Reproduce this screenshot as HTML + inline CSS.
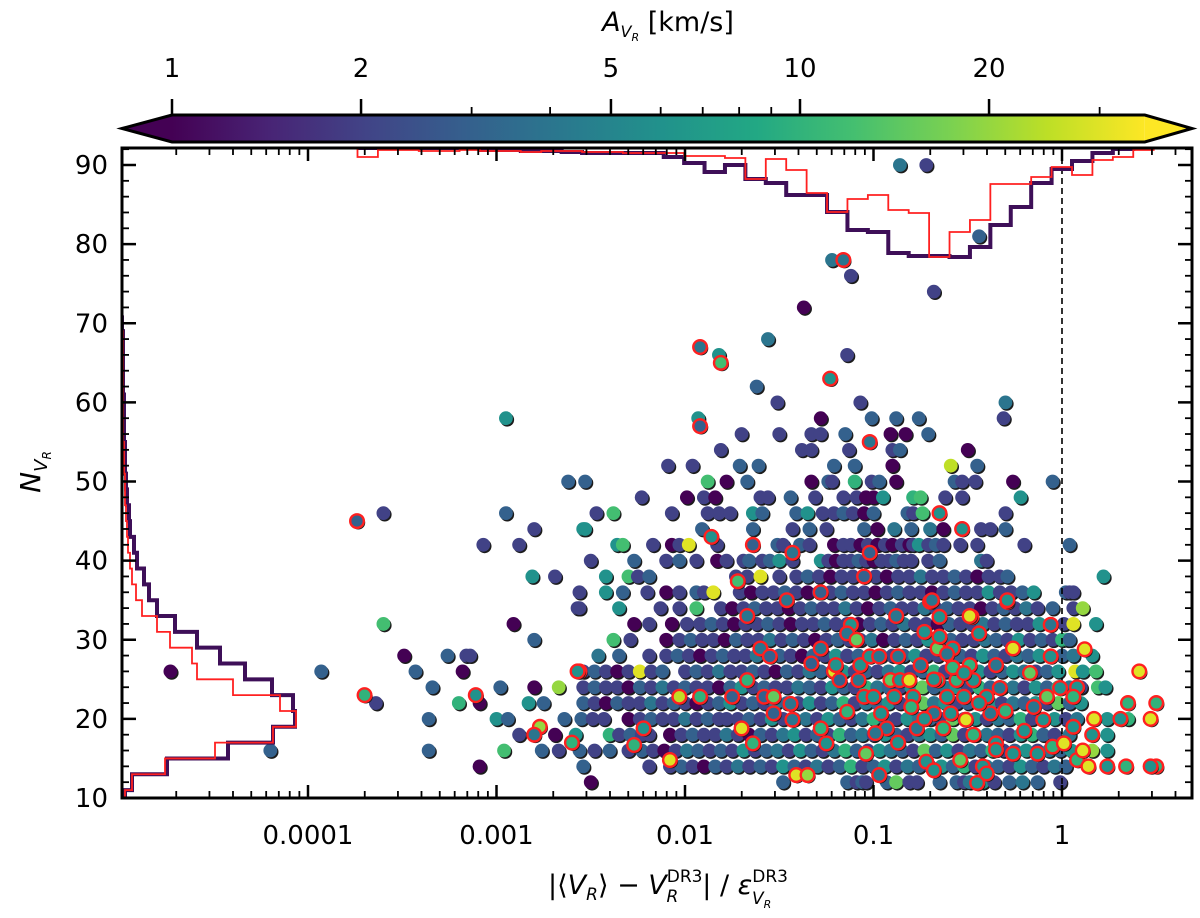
<!DOCTYPE html>
<html><head><meta charset="utf-8"><style>
html,body{margin:0;padding:0;background:#fff;}
svg{display:block;font-family:"DejaVu Sans","Liberation Sans",sans-serif;}
</style></head><body>
<svg id="chart" width="1200" height="918" viewBox="0 0 1200 918" xmlns="http://www.w3.org/2000/svg">
<defs>
<linearGradient id="vir" gradientUnits="userSpaceOnUse" x1="172" y1="0" x2="1145" y2="0">
<stop offset="0" stop-color="#440154"/><stop offset="0.1" stop-color="#482475"/><stop offset="0.2" stop-color="#414487"/><stop offset="0.3" stop-color="#355f8d"/><stop offset="0.4" stop-color="#2a788e"/><stop offset="0.5" stop-color="#21918c"/><stop offset="0.6" stop-color="#22a884"/><stop offset="0.7" stop-color="#44bf70"/><stop offset="0.8" stop-color="#7ad151"/><stop offset="0.9" stop-color="#bddf26"/><stop offset="1" stop-color="#fde725"/>
</linearGradient>
<clipPath id="plotclip"><rect x="122" y="148" width="1070" height="650"/></clipPath>
</defs>
<g id="colorbar"></g>
<g id="plot" clip-path="url(#plotclip)"></g>
<g id="axes"></g>
<text x="668" y="31" font-size="27" text-anchor="middle"><tspan font-style="italic">A</tspan><tspan font-style="italic" font-size="16" dy="6">V</tspan><tspan font-style="italic" font-size="11" dy="4">R</tspan><tspan dy="-10" font-size="27">   [km/s]</tspan></text>
<text transform="translate(40,472) rotate(-90)" font-size="28" text-anchor="middle"><tspan font-style="italic">N</tspan><tspan font-style="italic" font-size="18" dy="7">V</tspan><tspan font-style="italic" font-size="12" dy="4">R</tspan></text>
<text x="668" y="894" font-size="27" text-anchor="middle">|⟨<tspan font-style="italic">V</tspan><tspan font-style="italic" font-size="17" dy="6">R</tspan><tspan dy="-6">⟩ − </tspan><tspan font-style="italic">V</tspan><tspan font-size="17" dy="-12">DR3</tspan><tspan font-style="italic" font-size="17" dx="-36" dy="20">R</tspan><tspan dy="-8" dx="24">| / </tspan><tspan font-style="italic">ε</tspan><tspan font-size="17" dy="-12">DR3</tspan><tspan font-style="italic" font-size="17" dx="-36" dy="22">V</tspan><tspan font-style="italic" font-size="11" dy="4">R</tspan></text>
</svg>
<script>
// ---------- data ----------
const xTickVals = [-4, -3, -2, -1, 0];
const xTickLabels = ["0.0001", "0.001", "0.01", "0.1", "1"];
const yTickVals = [10, 20, 30, 40, 50, 60, 70, 80, 90];
const cbTickVals = [1, 2, 5, 10, 20];
const cbMinorVals = [3, 4, 6, 7, 8, 9, 30];

const rowN = [12,14,16,18,20,22,24,26,28,30,32,34,36,38,40,42,44,46,48,50,52,54,56,58,60,62];
const rowX = [
[-2.50,-1.48,-1.14,-1.09,-1.06,-1.04,-0.93,-0.88,-0.81,-0.77,-0.65,-0.56,-0.52,-0.49,-0.45,-0.42,-0.36,-0.28,-0.21,-0.13,-0.01],
[-3.09,-2.54,-2.19,-2.08,-2.02,-1.96,-1.90,-1.84,-1.78,-1.72,-1.66,-1.60,-1.54,-1.48,-1.42,-1.36,-1.30,-1.24,-1.18,-1.12,-1.06,-1.00,-0.94,-0.88,-0.82,-0.76,-0.70,-0.64,-0.58,-0.52,-0.46,-0.40,-0.34,-0.28,-0.22,-0.16,-0.10,-0.04,0.02],
[-4.20,-3.36,-2.96,-2.76,-2.67,-2.56,-2.48,-2.40,-2.30,-2.23,-2.17,-2.11,-2.05,-1.99,-1.93,-1.87,-1.81,-1.75,-1.69,-1.63,-1.57,-1.51,-1.45,-1.39,-1.33,-1.27,-1.21,-1.15,-1.09,-1.03,-0.97,-0.91,-0.85,-0.79,-0.73,-0.67,-0.61,-0.55,-0.49,-0.43,-0.37,-0.31,-0.25,-0.19,-0.13,-0.07,-0.01,0.05,0.16,0.24],
[-2.88,-2.69,-2.58,-2.40,-2.35,-2.29,-2.23,-2.19,-2.08,-2.02,-1.96,-1.90,-1.84,-1.78,-1.72,-1.66,-1.60,-1.54,-1.48,-1.42,-1.36,-1.30,-1.24,-1.18,-1.12,-1.06,-1.00,-0.94,-0.88,-0.82,-0.76,-0.70,-0.64,-0.58,-0.52,-0.46,-0.40,-0.34,-0.28,-0.22,-0.16,-0.10,-0.04,0.04,0.24],
[-3.36,-3.00,-2.94,-2.64,-2.55,-2.49,-2.43,-2.30,-2.24,-2.18,-2.12,-2.06,-2.00,-1.94,-1.88,-1.82,-1.78,-1.72,-1.66,-1.60,-1.54,-1.48,-1.42,-1.36,-1.30,-1.24,-1.18,-1.12,-1.06,-1.00,-0.94,-0.88,-0.82,-0.76,-0.70,-0.64,-0.58,-0.52,-0.46,-0.40,-0.34,-0.28,-0.22,-0.16,-0.10,-0.04,0.02,0.08,0.24,0.35],
[-3.64,-3.20,-3.09,-2.83,-2.75,-2.54,-2.48,-2.42,-2.36,-2.30,-2.24,-2.18,-2.12,-2.06,-2.00,-1.94,-1.88,-1.82,-1.76,-1.70,-1.64,-1.58,-1.52,-1.46,-1.40,-1.34,-1.28,-1.22,-1.16,-1.10,-1.04,-0.98,-0.92,-0.86,-0.80,-0.74,-0.68,-0.62,-0.56,-0.50,-0.44,-0.38,-0.32,-0.26,-0.20,-0.14,-0.08,-0.02,0.04,0.10],
[-3.34,-2.98,-2.80,-2.67,-2.54,-2.48,-2.42,-2.36,-2.30,-2.24,-2.18,-2.12,-2.06,-2.00,-1.94,-1.88,-1.82,-1.76,-1.70,-1.64,-1.58,-1.52,-1.46,-1.40,-1.34,-1.28,-1.22,-1.16,-1.10,-1.04,-0.98,-0.92,-0.86,-0.80,-0.74,-0.68,-0.62,-0.56,-0.50,-0.44,-0.38,-0.32,-0.26,-0.20,-0.14,-0.08,-0.02,0.04,0.10,0.19,0.23],
[-4.73,-3.93,-3.43,-3.18,-2.54,-2.48,-2.42,-2.36,-2.30,-2.24,-2.18,-2.12,-2.00,-1.94,-1.88,-1.82,-1.76,-1.70,-1.64,-1.58,-1.52,-1.46,-1.40,-1.34,-1.28,-1.22,-1.16,-1.10,-1.04,-0.98,-0.92,-0.86,-0.80,-0.74,-0.68,-0.62,-0.56,-0.50,-0.44,-0.38,-0.32,-0.26,-0.20,-0.14,-0.08,-0.02,0.07,0.11,0.18],
[-3.49,-3.26,-3.16,-3.14,-2.46,-2.35,-2.19,-2.10,-2.04,-1.98,-1.92,-1.86,-1.80,-1.74,-1.68,-1.62,-1.56,-1.50,-1.44,-1.38,-1.32,-1.26,-1.20,-1.14,-1.08,-1.02,-0.96,-0.90,-0.84,-0.78,-0.72,-0.66,-0.60,-0.54,-0.48,-0.42,-0.36,-0.30,-0.24,-0.18,-0.12,-0.06,0.00,0.06,0.16],
[-2.80,-2.38,-2.29,-2.10,-2.03,-1.97,-1.91,-1.85,-1.79,-1.73,-1.67,-1.61,-1.55,-1.49,-1.43,-1.37,-1.31,-1.25,-1.19,-1.13,-1.07,-1.01,-0.95,-0.89,-0.83,-0.77,-0.71,-0.65,-0.59,-0.53,-0.47,-0.41,-0.35,-0.29,-0.23,-0.17,-0.11,-0.05,0.00,0.03,0.04],
[-3.60,-2.91,-2.27,-2.19,-2.07,-1.99,-1.92,-1.86,-1.80,-1.74,-1.68,-1.62,-1.56,-1.50,-1.44,-1.38,-1.32,-1.26,-1.20,-1.14,-1.08,-1.02,-0.96,-0.90,-0.84,-0.78,-0.72,-0.66,-0.60,-0.54,-0.48,-0.42,-0.36,-0.30,-0.24,-0.18,-0.12,-0.06,0.01,0.06,0.18],
[-2.57,-2.35,-2.56,-2.13,-2.03,-1.94,-1.81,-1.75,-1.69,-1.63,-1.57,-1.51,-1.45,-1.39,-1.33,-1.27,-1.21,-1.15,-1.09,-1.03,-0.97,-0.91,-0.85,-0.79,-0.73,-0.67,-0.61,-0.55,-0.49,-0.43,-0.37,-0.31,-0.25,-0.19,-0.13,-0.05,0.06,0.11],
[-2.56,-2.42,-2.33,-2.20,-2.10,-2.03,-1.94,-1.90,-1.85,-1.71,-1.65,-1.59,-1.53,-1.47,-1.41,-1.35,-1.29,-1.23,-1.17,-1.11,-1.05,-0.99,-0.93,-0.87,-0.81,-0.75,-0.69,-0.63,-0.57,-0.51,-0.45,-0.39,-0.33,-0.27,-0.21,-0.15,0.02,0.04,0.06],
[-2.81,-2.69,-2.42,-2.30,-2.25,-2.19,-1.73,-1.67,-1.60,-1.50,-1.41,-1.35,-1.29,-1.23,-1.17,-1.11,-1.05,-0.99,-0.93,-0.87,-0.81,-0.75,-0.69,-0.63,-0.57,-0.51,-0.45,-0.39,-0.33,-0.29,0.22],
[-2.50,-2.27,-2.10,-2.03,-1.94,-1.83,-1.78,-1.69,-1.66,-1.59,-1.55,-1.50,-1.43,-1.28,-1.24,-1.20,-1.16,-1.12,-1.08,-1.04,-1.00,-0.96,-0.92,-0.88,-0.84,-0.80,-0.71,-0.65,-0.43,-0.40],
[-3.07,-2.88,-2.36,-2.33,-2.17,-2.07,-2.03,-1.98,-1.83,-1.51,-1.48,-1.39,-1.34,-1.21,-1.16,-1.12,-1.07,-1.03,-0.98,-0.94,-0.90,-0.85,-0.81,-0.79,-0.76,-0.71,-0.67,-0.63,-0.54,-0.45,-0.20,0.04],
[-2.80,-2.54,-2.53,-1.91,-1.64,-1.43,-1.34,-1.25,-1.05,-0.98,-0.89,-0.80,-0.70,-0.63,-0.43,-0.38,-0.30],
[-3.60,-2.95,-2.47,-2.38,-2.07,-1.88,-1.82,-1.76,-1.64,-1.59,-1.41,-1.35,-1.27,-1.21,-1.16,-1.11,-1.05,-1.00,-0.82,-0.79,-0.74,-0.30],
[-2.23,-1.99,-1.90,-1.84,-1.60,-1.56,-1.44,-1.31,-1.16,-1.09,-1.04,-1.00,-0.95,-0.79,-0.75,-0.62,-0.53,-0.22],
[-2.62,-2.53,-1.88,-1.78,-1.67,-1.33,-1.24,-1.22,-1.10,-1.01,-0.97,-0.88,-0.57,-0.53,-0.46,-0.26,-0.05],
[-2.09,-1.96,-1.71,-1.61,-1.21,-1.10,-0.90,-0.59,-0.45],
[-1.81,-1.38,-1.33,-1.13,-0.90,-0.86,-0.50],
[-1.70,-1.50,-1.33,-1.28,-1.15,-0.91,-0.83,-0.71],
[-2.95,-1.93,-1.28,-1.01,-0.88,-0.76,-0.31],
[-1.51,-1.07,-0.30],
[-1.62]
];
const rowA = [
[1,3,3,2,3,2,3,15,2,2,3,3,2,4,3,6,2,3,4,3,2],
[1,3,2,2,3,2,1,3,2,4,2,3,2,6,3,2,4,2,3,10,2,3,6,2,4,3,2,6,3,10,2,4,3,2,6,3,2,4,3],
[3,3,12,3,2,3,2,3,2,3,2,1,2,4,3,2,3,2,6,2,3,4,2,6,3,2,4,10,3,2,6,4,3,2,15,3,6,2,4,3,10,2,3,6,2,4,3,6,20,6],
[2,1,6,10,2,3,2,2,1,2,3,2,2,4,2,1,3,2,4,6,2,3,2,10,3,4,2,6,3,2,4,6,3,15,2,6,4,3,2,6,10,3,2,4,6],
[3,6,3,3,3,2,2,1,2,3,2,2,4,2,3,2,2,2,3,2,6,2,3,4,2,6,3,2,4,10,3,2,6,4,3,2,15,3,6,2,4,3,10,2,3,6,2,4,6,10],
[2,10,1,6,3,3,2,1,3,2,2,4,2,3,2,1,2,3,6,2,3,2,4,3,2,6,2,3,10,2,4,3,6,2,3,15,4,6,2,3,10,6,2,4,3,6,2,15,3,6],
[3,3,1,20,2,3,2,2,1,3,2,4,2,3,2,2,1,3,6,2,3,2,2,4,3,2,6,3,2,10,4,3,2,6,15,3,4,6,2,10,3,6,4,2,6,3,10,4,2,12,6],
[1,3,3,1,2,3,2,1,2,30,2,3,2,3,2,4,2,2,3,2,1,3,2,4,3,2,6,2,3,2,4,6,2,3,10,2,4,3,6,2,3,6,4,2,3,6,30,6,12],
[1,3,2,2,4,3,2,2,3,2,1,2,3,2,2,4,2,3,2,1,3,2,6,2,3,2,4,2,3,6,2,2,4,3,2,6,3,2,4,3,6,2,3,4,6],
[3,12,2,1,2,3,2,2,1,3,2,2,4,2,3,2,1,2,3,2,2,4,1,2,3,2,6,2,3,2,2,4,3,2,6,2,3,2,10,10,3],
[12,1,1,2,1,2,2,3,2,1,2,2,3,2,1,2,2,3,2,2,1,2,3,2,4,2,2,1,3,2,2,4,2,3,2,2,6,2,2,30,6],
[2,6,2,2,2,12,2,1,2,3,2,2,1,2,3,2,2,4,2,1,2,3,2,2,4,2,3,2,2,1,2,3,2,4,2,3,2,20],
[2,6,3,2,1,2,3,2,30,2,1,2,2,3,2,1,2,2,3,2,2,1,2,3,2,2,1,2,3,2,2,6,2,2,3,6,3,2,2],
[6,2,6,12,2,3,2,2,30,2,2,3,2,1,2,2,3,2,1,2,2,4,2,2,3,2,1,2,2,3,6],
[2,3,2,3,2,1,2,2,3,2,3,6,2,6,2,1,2,2,3,2,1,2,2,3,2,2,2,3,4,2],
[2,2,6,12,2,1,2,30,2,3,2,3,2,1,2,2,1,2,1,2,1,2,1,2,6,2,3,2,2,2,2,3],
[2,6,6,3,3,2,3,2,3,1,4,3,4,1,2,2,3],
[2,3,2,12,2,2,2,2,6,3,3,6,2,2,3,2,1,3,3,2,12,2],
[2,1,2,1,2,2,3,2,2,2,1,1,6,10,12,2,2,6],
[3,3,12,1,3,1,3,2,10,2,3,1,3,2,2,1,3],
[2,2,3,3,3,3,1,25,3],
[2,2,2,2,2,3,1],
[2,2,2,2,3,1,1,3],
[6,6,1,3,3,3,2],
[2,2,4],
[3]
];
// sparse points: [log10 x, N, A]
const sparsePts = [[-1.82,66,6],[-1.14,66,2],[-1.56,68,4],[-1.37,72,1],[-0.68,74,2],[-1.12,76,2],[-1.22,78,4],[-0.44,81,3],[-0.86,90,4],[-0.72,90,2]];
// red-circled points: [log10 x, N, A]
const redPts = [
[-2.56,26,3],[-2.22,18.8,6],[-2.27,16.7,10],[-2.08,14.8,30],[-2.03,22.8,25],[-1.92,22.8,10],[-1.75,22.8,3],[-1.70,18.8,30],[-1.67,24.9,10],[-1.64,16.9,10],
[-1.60,28.9,4],[-1.58,22.8,3],[-1.55,27.9,3],[-1.53,22.8,15],[-1.53,20.7,3],[-1.44,21.9,4],[-1.41,12.9,30],[-1.35,12.9,20],[-1.33,27,3],[-1.28,28.9,4],
[-1.43,19.9,4],[-1.28,18.8,10],[-1.25,16.9,6],[-1.21,26,30],[-1.20,26.8,6],[-1.18,24.9,3],[-1.14,20.9,10],[-1.12,31.9,6],[-1.14,30.8,4],[-1.09,30,15],
[-1.08,24.9,4],[-1.07,26.8,6],[-1.05,22.8,6],[-1.04,15.6,15],[-1.02,27.9,6],[-1.00,22.8,6],[-0.97,27.9,4],[-0.96,20.7,6],[-0.93,18.8,4],[-0.91,24.9,15],
[-0.89,22.8,6],[-0.87,27.9,4],[-0.86,24.9,6],[-0.81,24.9,30],[-0.79,22.8,6],[-0.77,18.8,4],[-0.75,26.8,4],[-0.73,31,6],[-0.70,34.8,4],[-0.68,20.7,4],
[-0.66,24.9,10],[-0.66,28.9,15],[-0.65,32.9,6],[-0.63,18.8,10],[-0.61,22.8,6],[-0.59,20.7,6],[-0.58,28.9,6],[-0.56,24.9,10],[-0.54,14.8,15],[-0.52,22.8,6],
[-0.51,19.9,30],[-0.49,26.8,10],[-0.48,32.9,30],[-0.47,24.9,6],[-0.44,30.8,6],[-0.42,14,6],[-0.40,22.8,6],[-0.38,20.7,4],[-0.35,26.8,4],[-0.35,16.9,6],
[-0.33,23.9,4],[-0.29,34.8,4],[-0.26,28.9,30],[-0.26,15.6,6],[-0.17,25.8,15],[-0.13,15.6,6],[-0.10,19.9,6],[-0.08,22.8,15],[-0.06,31.9,4],[-0.06,27.9,6],
[-0.05,16.5,10],[-0.01,23.9,6],[0.01,16.9,30],[0.06,19,6],[0.08,14.8,10],[-0.45,11.9,6],[-0.40,13.1,6],[-0.97,12.9,4],[-0.72,14.6,6],[-0.68,13.5,6],
[-0.35,16.1,6],[-0.65,30.4,6],[-0.61,28.2,4],[-0.58,26.5,10],[-0.68,25,6],[-0.52,25.8,6],[-0.73,20,6],[-0.47,18,10],[-0.87,17,6],[-0.99,18.2,4],
[-0.80,21.5,10],[-0.44,22,6],[-0.30,21,10],[-0.20,18.5,6],[-0.15,21.5,4],
[0.17,20,30],[0.31,20,6],[0.35,22,10],[0.16,18,6],[0.11,16,30],[0.14,14,30],[0.24,14,6],[0.34,14,10],[0.12,28.8,30],[0.41,26,30],[0.08,24,6],[0.06,22.8,10],
[0.47,20,30],[0.50,22,10],[0.50,14,10],[0.47,14,6],
[-3.74,45,3],[-3.70,23,10],[-3.11,23,6],[-2.77,19,20],[-2.80,18,4],[-2.60,17,10],[-2.57,26,6],[-1.92,67,4],[-1.81,65,12],[-1.23,63,6],[-1.16,78,4],
[-1.92,57,3],[-1.02,55,4],[-1.86,43,6],[-1.64,42,3],[-1.43,41,4],[-1.02,41,3],[-0.65,46,6],[-0.53,44,6],[-1.05,38,3],[-1.72,37.4,12],[-1.28,36,3],
[-1.46,35,4],[-0.69,35,4],[-0.29,35,6],[-1.67,33,4],[-0.88,33,4],[-0.49,33,30]
];
// left histogram (bins of N, width 2, starting at N=9)
const leftHistAll = [3,10,45,106,151,173,171,150,123,98,75,53,35,27,22,15,12,8,7,5,4,3,3,2,2,2,1,1,1,1,0];
const leftHistRed = [3,10,43,93,151,174,158,111,75,70,48,35,20,14,10,8,6,5,4,3,3,2,2,1,1,1,1,1,1,1,0];
// top histogram (log-x bins)
const topHistAll = [0,0,0,0,0,0,2,2,3,3,4,5,5,5,5,9,15,24,17,31,35,47,47,64,82,84,105,108,108,109,99,77,59,35,21,13,5,1,0];
const topHistRed = [9,2,2,3,3,2,3,3,4,3,3,4,4,5,5,5,8,8,10,31,11,22,45,64,51,47,62,65,109,84,72,36,36,29,19,27,12,9,2];

// ---------- scales ----------
const L=122,R=1192,T=148,B=798;
function xs(lx){return 1062+lx*188.5;}
function ys(n){return 798-(n-10)*7.9125;}
const CB0=172, CBDEC=628, CBMAX=35.4;
function cbx(a){return CB0+Math.log10(a)*CBDEC;}
const VIR=["#440154","#482475","#414487","#355f8d","#2a788e","#21918c","#22a884","#44bf70","#7ad151","#bddf26","#fde725"];
function hex(c){return [parseInt(c.substr(1,2),16),parseInt(c.substr(3,2),16),parseInt(c.substr(5,2),16)];}
function color(a){
  let t=Math.log(a)/Math.log(CBMAX); t=Math.max(0,Math.min(1,t));
  const p=t*10, i=Math.min(9,Math.floor(p)), f=p-i;
  const c0=hex(VIR[i]), c1=hex(VIR[i+1]);
  return "rgb("+c0.map((v,k)=>Math.round(v+(c1[k]-v)*f)).join(",")+")";
}
const NS="http://www.w3.org/2000/svg";
function mk(tag,attrs,parent){const e=document.createElementNS(NS,tag);for(const k in attrs)e.setAttribute(k,attrs[k]);parent.appendChild(e);return e;}

const plot=document.getElementById("plot");
const axes=document.getElementById("axes");
const cb=document.getElementById("colorbar");

// ---------- colorbar ----------
const cbFill=mk("rect",{x:CB0,y:115,width:cbx(CBMAX)-CB0,height:27,fill:"url(#vir)"},cb);


const triL=mk("polygon",{points:"122,128.5 "+CB0+",115 "+CB0+",142",fill:VIR[0]},cb);


const xe=cbx(CBMAX);
const triR=mk("polygon",{points:xe+",115 1192,128.5 "+xe+",142",fill:VIR[10]},cb);


const cbOut=mk("path",{d:"M122,128.5 L"+CB0+",115 L"+xe+",115 L1192,128.5 L"+xe+",142 L"+CB0+",142 Z",fill:"none",stroke:"#000","stroke-width":3,"stroke-linejoin":"miter"},cb);


cbTickVals.forEach(v=>{
  const x=cbx(v);
  const tk=mk("line",{x1:x,y1:99,x2:x,y2:115,stroke:"#000","stroke-width":2.5},cb);
  
  
  const lb=mk("text",{x:x,y:77,"font-size":26,"text-anchor":"middle"},cb);
  lb.textContent=String(v);
  
  
});
cbMinorVals.forEach(v=>{
  const x=cbx(v);
  const tk=mk("line",{x1:x,y1:107,x2:x,y2:115,stroke:"#000","stroke-width":1.8},cb);
  
  
});

// ---------- points ----------
function drawPoint(lx,n,a,red){
  const x=xs(lx), y=ys(n);
  const g=mk("g",{},plot);
  
  
  mk("circle",{cx:x+1.3,cy:y+1.5,r:6.9,fill:"#1c1c1c"},g);
  if(red){ mk("circle",{cx:x,cy:y,r:6.8,fill:color(a),stroke:"#ff2020","stroke-width":2.4},g); }
  else { mk("circle",{cx:x,cy:y,r:6.9,fill:color(a)},g); }
}
rowN.forEach((n,i)=>{
  rowX[i].forEach((lx,j)=>{ const a=(rowA[i][j]!==undefined)?rowA[i][j]:2; drawPoint(lx,n,a,false); });
});
sparsePts.forEach(p=>drawPoint(p[0],p[1],p[2],false));

// ---------- dashed reference line at x=1 ----------
const dl=mk("line",{x1:xs(0),y1:T,x2:xs(0),y2:B,stroke:"#000","stroke-width":1.6,"stroke-dasharray":"6,4"},plot);



redPts.forEach(p=>drawPoint(p[0],p[1],p[2],true));

// ---------- histograms ----------
function leftPath(counts){
  let d="M"+L+","+ys(9);
  counts.forEach((c,i)=>{const n0=9+2*i;d+=" L"+(L+c)+","+ys(n0)+" L"+(L+c)+","+ys(n0+2);});
  d+=" L"+L+","+ys(9+2*counts.length);
  return d;
}
const TK0=-18, TE0=-1.788, TW=0.1083;
function topPath(counts){
  let x0=xs(TE0+TW*TK0);
  let d="M"+x0+","+T;
  counts.forEach((c,i)=>{const e0=xs(TE0+TW*(TK0+i)),e1=xs(TE0+TW*(TK0+i+1));d+=" L"+e0+","+(T+c)+" L"+e1+","+(T+c);});
  d+=" L"+xs(TE0+TW*(TK0+counts.length))+","+T;
  return d;
}
const hl1=mk("path",{d:leftPath(leftHistAll),fill:"none",stroke:"#3e0f58","stroke-width":4},plot);


const hl2=mk("path",{d:leftPath(leftHistRed),fill:"none",stroke:"#ff2020","stroke-width":1.8},plot);


const ht1=mk("path",{d:topPath(topHistAll),fill:"none",stroke:"#3e0f58","stroke-width":4},plot);


const ht2=mk("path",{d:topPath(topHistRed),fill:"none",stroke:"#ff2020","stroke-width":1.8},plot);



// ---------- axes ----------
const frame=mk("rect",{x:L,y:T,width:R-L,height:B-T,fill:"none",stroke:"#000","stroke-width":3},axes);


xTickVals.forEach((v,i)=>{
  const x=xs(v);
  const t1=mk("line",{x1:x,y1:B,x2:x,y2:B-13,stroke:"#000","stroke-width":2.5},axes);
  
  
  const t2=mk("line",{x1:x,y1:T,x2:x,y2:T+13,stroke:"#000","stroke-width":2.5},axes);
  
  
  const lb=mk("text",{x:x,y:844,"font-size":26,"text-anchor":"middle"},axes);
  lb.textContent=xTickLabels[i];
  
  
});
for(let d=-5;d<=0;d++){for(let m=2;m<=9;m++){
  const lx=d+Math.log10(m), x=xs(lx);
  if(x<=L+1||x>=R-1)continue;
  const t1=mk("line",{x1:x,y1:B,x2:x,y2:B-7,stroke:"#000","stroke-width":1.8},axes);
  
  
  const t2=mk("line",{x1:x,y1:T,x2:x,y2:T+7,stroke:"#000","stroke-width":1.8},axes);
  
  
}}
yTickVals.forEach(v=>{
  const y=ys(v);
  const t1=mk("line",{x1:L,y1:y,x2:L+14,y2:y,stroke:"#000","stroke-width":2.5},axes);
  
  
  const t2=mk("line",{x1:R,y1:y,x2:R-14,y2:y,stroke:"#000","stroke-width":2.5},axes);
  
  
  const lb=mk("text",{x:108,y:y+9,"font-size":26,"text-anchor":"end"},axes);
  lb.textContent=String(v);
  
  
});
for(let n=12;n<=92;n+=2){
  if(n%10===0)continue;
  const y=ys(n);
  const t1=mk("line",{x1:L,y1:y,x2:L+7,y2:y,stroke:"#000","stroke-width":1.8},axes);
  
  
  const t2=mk("line",{x1:R,y1:y,x2:R-7,y2:y,stroke:"#000","stroke-width":1.8},axes);
  
  
}
</script>
</body></html>
